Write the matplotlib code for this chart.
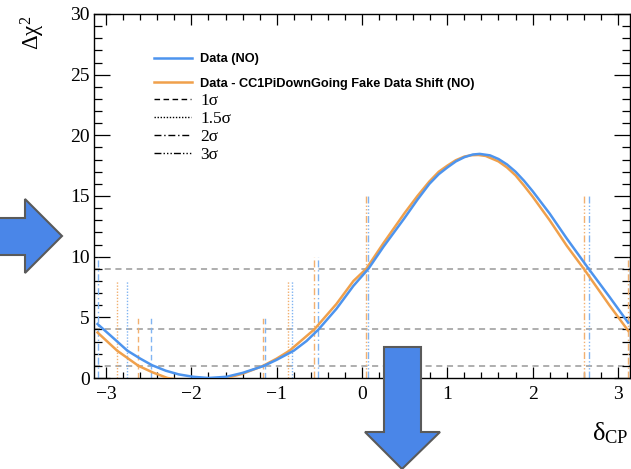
import numpy as np
import matplotlib
matplotlib.use("Agg")
import matplotlib.pyplot as plt
from matplotlib.lines import Line2D
from matplotlib.patches import Polygon
from matplotlib.ticker import MultipleLocator, FuncFormatter

plt.rcParams['mathtext.fontset'] = 'custom'
plt.rcParams['mathtext.rm'] = 'Liberation Serif'
plt.rcParams['mathtext.it'] = 'Liberation Serif:italic'

# ---------------- data ----------------
x_blue = [-3.10, -2.9, -2.75, -2.6, -2.46, -2.3, -2.15, -1.98, -1.8, -1.59, -1.4, -1.15,
          -1.0, -0.8, -0.65, -0.51, -0.3, -0.1, 0.075, 0.25, 0.5, 0.65, 0.79, 0.9, 1.0, 1.1,
          1.2, 1.3, 1.38, 1.5, 1.6, 1.7, 1.8, 1.9, 2.0, 2.2, 2.4, 2.657, 2.9, 3.12]
y_blue = [4.45, 3.2, 2.25, 1.6, 1.05, 0.6, 0.3, 0.1, 0.0, 0.1, 0.42, 1.0,
          1.5, 2.25, 3.05, 4.0, 5.7, 7.6, 9.0, 10.8, 13.2, 14.7, 16.0, 16.8, 17.35, 17.85,
          18.2, 18.42, 18.47, 18.35, 18.05, 17.6, 17.0, 16.25, 15.4, 13.55, 11.5, 9.0, 6.7, 4.56]

x_orange = [-3.10, -2.87, -2.62, -2.45, -2.28, -2.0, -1.8, -1.59, -1.4, -1.16, -1.0,
            -0.85, -0.56, -0.3, -0.1, 0.05, 0.25, 0.5, 0.65, 0.79, 0.9, 1.0, 1.1, 1.2, 1.28,
            1.364, 1.45, 1.6, 1.7, 1.8, 1.9, 2.0, 2.2, 2.4, 2.6, 2.9, 3.12]
y_orange = [3.75, 2.25, 1.0, 0.45, 0.0, -0.3, -0.3, 0.0, 0.35, 1.0, 1.6,
            2.25, 4.0, 6.1, 8.0, 9.0, 11.1, 13.6, 15.0, 16.2, 17.0, 17.5, 17.95, 18.25, 18.36,
            18.38, 18.3, 17.85, 17.35, 16.7, 15.85, 14.95, 13.0, 10.9, 9.0, 6.0, 3.9]

sigma_labels = ["1\u03c3", "1.5\u03c3", "2\u03c3", "3\u03c3"]
sigma_marker_height = [5, 8, 10, 15]
blue_edges = [[-2.47, -1.14], [-2.76, -0.82], [-3.09, -0.51], [0.075, 2.66]]
orange_edges = [[-2.62, -1.16], [-2.87, -0.865], [-0.56, 3.12], [0.05, 2.60]]
hlines = [1, 4, 9]

legend_labels = ["Data (NO)", "Data - CC1PiDownGoing Fake Data Shift (NO)"]

# ---------------- style ----------------
W, H = 631, 469
c_blue = '#4d94ee'
c_orange = '#f0a04b'
c_blue_l = '#80b4f2'
c_orange_l = '#f2b070'
styles = [(0, (4, 2.5)), (0, (1, 1.2)), (0, (5, 2, 1, 2)), (0, (5, 1.5, 1, 1.5, 1, 1.5, 1, 1.5))]

fig = plt.figure(figsize=(W / 100, H / 100), dpi=100)
ax = fig.add_axes([94 / W, 1 - 378 / H, (630 - 94) / W, (378 - 14) / H])

ax.set_xlim(-np.pi, np.pi)
ax.set_ylim(0, 30)

for y in hlines:
    ax.axhline(y, color='#999999', lw=1.1, ls=(0, (4, 3)), zorder=1)

for i in range(4):
    for xe in blue_edges[i]:
        ax.plot([xe, xe], [0, sigma_marker_height[i]], color=c_blue_l, lw=1.0, ls=styles[i], zorder=2)
    for xe in orange_edges[i]:
        ax.plot([xe, xe], [0, sigma_marker_height[i]], color=c_orange_l, lw=1.0, ls=styles[i], zorder=2)

ax.plot(x_orange, y_orange, color=c_orange, lw=1.8, zorder=3, solid_joinstyle='round')
ax.plot(x_blue, y_blue, color=c_blue, lw=1.8, zorder=4, solid_joinstyle='round')

# ticks
ax.xaxis.set_major_locator(MultipleLocator(1))
ax.xaxis.set_minor_locator(MultipleLocator(0.2))
ax.yaxis.set_major_locator(MultipleLocator(5))
ax.yaxis.set_minor_locator(MultipleLocator(1))
ax.tick_params(which='both', direction='in', top=True, right=True, width=0.9, color='black')
ax.tick_params(axis='x', which='major', length=8, pad=6)
ax.tick_params(axis='x', which='minor', length=4)
ax.tick_params(axis='y', which='major', length=11.5, pad=3)
ax.tick_params(axis='y', which='minor', length=5.5)
ax.xaxis.set_major_formatter(FuncFormatter(lambda v, p: f"{int(round(v))}".replace('-', '\u2212')))
for lab in ax.get_xticklabels() + ax.get_yticklabels():
    lab.set_fontfamily('Liberation Serif')
    lab.set_fontsize(14)
for sp in ax.spines.values():
    sp.set_linewidth(1.0)

# axis titles (ROOT style placement)
fig.text(33 / W, 1 - 16 / H, r'$\mathrm{\Delta\chi}^{2}$', rotation=90, ha='center', va='top', fontsize=16.5)
fig.text(629 / W, 1 - 440 / H, r'$\mathrm{\delta}_{\mathrm{CP}}$', ha='right', va='baseline', fontsize=19)

# legends
h1 = [Line2D([], [], color=c_blue, lw=1.8), Line2D([], [], color=c_orange, lw=1.8)]
leg1 = ax.legend(h1, legend_labels, loc='upper left', bbox_to_anchor=(154 / W, 1 - 53 / H),
                 bbox_transform=fig.transFigure, frameon=False, borderpad=0, borderaxespad=0,
                 handlelength=2.95, handletextpad=0.62, labelspacing=1.0,
                 prop={'family': 'Liberation Sans', 'weight': 'bold', 'size': 9.2})
ax.add_artist(leg1)
h2 = [Line2D([], [], color='black', lw=1.0, ls=styles[i]) for i in range(4)]
leg2 = ax.legend(h2, sigma_labels, loc='upper left', bbox_to_anchor=(154 / W, 1 - 93 / H),
                 bbox_transform=fig.transFigure, frameon=False, borderpad=0, borderaxespad=0,
                 handlelength=2.15, handletextpad=0.5, labelspacing=0.1,
                 prop={'family': 'Liberation Serif', 'size': 12.5})

# overlaid blue arrows (figure pixel coordinates)
def px(pts):
    return [(x / W, 1 - y / H) for x, y in pts]

arrow_right = px([(-3, 218), (25, 218), (25, 199), (62, 236), (25, 273), (25, 255), (-3, 255)])
arrow_down = px([(384, 347), (421, 347), (421, 432), (440, 432), (402, 469), (365, 432), (384, 432)])
for pts in (arrow_right, arrow_down):
    fig.add_artist(Polygon(pts, closed=True, facecolor='#4a86e8', edgecolor='#5a5a5a', lw=1.5,
                           transform=fig.transFigure, clip_on=False, zorder=10))

fig.savefig('out.png', dpi=100)
